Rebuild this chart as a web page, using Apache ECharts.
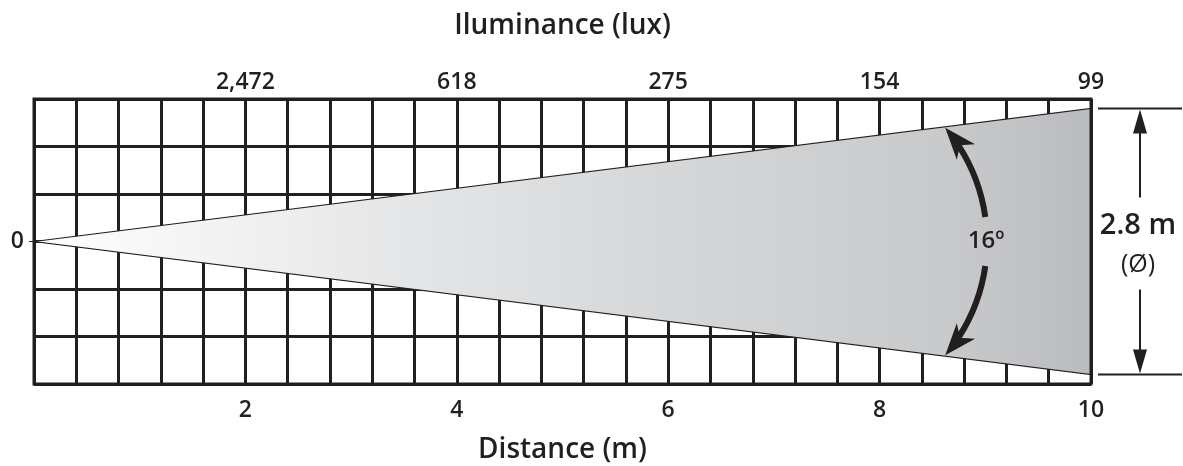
<!DOCTYPE html>
<html>
<head>
<meta charset="utf-8">
<script src="https://cdn.jsdelivr.net/npm/echarts@6/dist/echarts.min.js"></script>
<style>
  html, body { margin: 0; padding: 0; background: #ffffff; }
  #chart { width: 1183px; height: 466px; }
</style>
</head>
<body>
<div id="chart"></div>
<script>
// ---- data ----
const distances = [2, 4, 6, 8, 10];            // m (bottom tick labels)
const luxValues = [2472, 618, 275, 154, 99];   // lux at those distances (top tick labels)
const beamAngleDeg = 16;                       // beam angle
const beamDiameter = 2.8;                      // m, at max distance
const maxDistance = 10;                        // m
const originLabel = ['0'];
const xTitle = 'Distance (m)';
const topTitle = 'Iluminance (lux)';

// ---- derived ----
const half = beamDiameter / 2;
const beamPolygon = [[0, 0], [maxDistance, half], [maxDistance, -half]];

const INK = '#231f20';
const FONT = '"Open Sans", "Noto Sans", sans-serif';

function fmtLux(v) { return v.toLocaleString('en-US'); }

const chart = echarts.init(document.getElementById('chart'), null, { renderer: 'canvas' });

function renderBeam(params, api) {
  const pts = beamPolygon.map(p => api.coord(p));
  return {
    type: 'polygon',
    shape: { points: pts },
    style: {
      fill: new echarts.graphic.LinearGradient(0, 0, 1, 0, [
        { offset: 0, color: '#ffffff' },
        { offset: 0.33, color: '#e6e7e8' },
        { offset: 0.61, color: '#d5d6d8' },
        { offset: 0.87, color: '#c8c9cb' },
        { offset: 1, color: '#babbbe' }
      ]),
      stroke: INK,
      lineWidth: 1.2
    }
  };
}

function arrowHead(tip, dir, len, wid) {
  const nx = -dir[1], ny = dir[0];
  const bx = tip[0] - dir[0] * len, by = tip[1] - dir[1] * len;
  const notch = [tip[0] - dir[0] * len * 0.72, tip[1] - dir[1] * len * 0.72];
  return [tip, [bx + nx * wid / 2, by + ny * wid / 2], notch, [bx - nx * wid / 2, by - ny * wid / 2]];
}

function renderAnnot(params, api) {
  const cs = params.coordSys;
  const A = api.coord([0, 0]);
  const T = api.coord([maxDistance, half]);
  const B = api.coord([maxDistance, -half]);
  const children = [];

  // plot border
  children.push({
    type: 'rect',
    shape: { x: cs.x, y: cs.y, width: cs.width, height: cs.height },
    style: { fill: null, stroke: INK, lineWidth: 3 }
  });
  // small leader tick at origin
  children.push({ type: 'line', shape: { x1: A[0] - 5, y1: A[1], x2: A[0], y2: A[1] }, style: { stroke: INK, lineWidth: 1 } });

  // beam-angle arcs
  const cx = T[0] - 280, cy = A[1], r = 176;
  const deg = Math.PI / 180;
  const tipAng = 40.3 * deg, endAng = 8 * deg, headLen = 32, headW = 24;
  const headAng = (headLen * 0.72) / r;
  children.push({
    type: 'arc',
    shape: { cx: cx, cy: cy, r: r, startAngle: -(tipAng - headAng), endAngle: -endAng, clockwise: true },
    style: { fill: null, stroke: INK, lineWidth: 6 }
  });
  children.push({
    type: 'arc',
    shape: { cx: cx, cy: cy, r: r, startAngle: endAng, endAngle: tipAng - headAng, clockwise: true },
    style: { fill: null, stroke: INK, lineWidth: 6 }
  });
  const upTip = [cx + r * Math.cos(tipAng), cy - r * Math.sin(tipAng)];
  const upDir = [-Math.sin(tipAng), -Math.cos(tipAng)];
  const loTip = [cx + r * Math.cos(tipAng), cy + r * Math.sin(tipAng)];
  const loDir = [-Math.sin(tipAng), Math.cos(tipAng)];
  children.push({ type: 'polygon', shape: { points: arrowHead(upTip, upDir, headLen, headW) }, style: { fill: INK } });
  children.push({ type: 'polygon', shape: { points: arrowHead(loTip, loDir, headLen, headW) }, style: { fill: INK } });
  children.push({
    type: 'text',
    style: {
      text: beamAngleDeg + 'º', x: cx + r - 1, y: cy,
      align: 'center', verticalAlign: 'middle',
      fontSize: 24, fontWeight: 600, fontFamily: FONT, fill: INK
    }
  });

  // diameter dimension
  const dx = T[0] + 49;
  children.push({ type: 'line', shape: { x1: T[0] + 7, y1: T[1], x2: T[0] + 91, y2: T[1] }, style: { stroke: INK, lineWidth: 2 } });
  children.push({ type: 'line', shape: { x1: B[0] + 7, y1: B[1], x2: B[0] + 91, y2: B[1] }, style: { stroke: INK, lineWidth: 2 } });
  children.push({ type: 'line', shape: { x1: dx, y1: T[1] + 20, x2: dx, y2: A[1] - 44 }, style: { stroke: INK, lineWidth: 2 } });
  children.push({ type: 'line', shape: { x1: dx, y1: A[1] + 48, x2: dx, y2: B[1] - 20 }, style: { stroke: INK, lineWidth: 2 } });
  children.push({ type: 'polygon', shape: { points: [[dx, T[1] + 1], [dx - 7, T[1] + 25], [dx + 7, T[1] + 25]] }, style: { fill: INK } });
  children.push({ type: 'polygon', shape: { points: [[dx, B[1] - 1], [dx - 7, B[1] - 25], [dx + 7, B[1] - 25]] }, style: { fill: INK } });
  children.push({
    type: 'text',
    style: {
      text: beamDiameter.toFixed(1) + ' m', x: dx - 2, y: A[1] - 16,
      align: 'center', verticalAlign: 'middle',
      fontSize: 29, fontWeight: 600, fontFamily: FONT, fill: INK
    }
  });
  children.push({
    type: 'text',
    style: {
      text: '(Ø)', x: dx - 2, y: A[1] + 23,
      align: 'center', verticalAlign: 'middle',
      fontSize: 25, fontWeight: 500, fontFamily: FONT, fill: INK
    }
  });

  return { type: 'group', children: children };
}

const option = {
  backgroundColor: '#ffffff',
  animation: false,
  grid: { left: 34, right: 92, top: 99, bottom: 82, show: false, outerBoundsMode: 'none', containLabel: false },
  xAxis: [
    {
      type: 'value', position: 'bottom', min: 0, max: maxDistance, interval: 0.4,
      axisLine: { show: false }, axisTick: { show: false },
      splitLine: { show: true, lineStyle: { color: INK, width: 3 } },
      axisLabel: {
        margin: 15, color: INK, fontSize: 23, fontWeight: 600, fontFamily: FONT,
        formatter: v => { const i = distances.findIndex(d => Math.abs(d - v) < 1e-6); return i >= 0 ? String(distances[i]) : ''; }
      },
      name: xTitle, nameLocation: 'middle', nameGap: 52,
      nameTextStyle: { color: INK, fontSize: 28, fontWeight: 600, fontFamily: FONT }
    },
    {
      type: 'value', position: 'top', min: 0, max: maxDistance, interval: 0.4,
      axisLine: { show: false }, axisTick: { show: false }, splitLine: { show: false },
      axisLabel: {
        margin: 5, color: INK, fontSize: 23, fontWeight: 600, fontFamily: FONT,
        formatter: v => { const i = distances.findIndex(d => Math.abs(d - v) < 1e-6); return i >= 0 ? fmtLux(luxValues[i]) : ''; }
      },
      name: topTitle, nameLocation: 'middle', nameGap: 59,
      nameTextStyle: { color: INK, fontSize: 28, fontWeight: 600, fontFamily: FONT }
    }
  ],
  yAxis: {
    type: 'value', min: -1.5, max: 1.5, interval: 0.5,
    axisLine: { show: false }, axisTick: { show: false },
    splitLine: { show: true, lineStyle: { color: INK, width: 3 } },
    axisLabel: {
      margin: 10, color: INK, fontSize: 23, fontWeight: 600, fontFamily: FONT,
      formatter: v => (Math.abs(v) < 1e-9 ? originLabel[0] : '')
    }
  },
  series: [
    {
      type: 'custom', name: 'beam', xAxisIndex: 0, renderItem: renderBeam,
      data: [[0]], silent: true, z: 2
    },
    {
      type: 'custom', name: 'annotations', xAxisIndex: 0, renderItem: renderAnnot,
      data: [[0]], silent: true, clip: false, z: 3
    }
  ]
};

chart.setOption(option);
</script>
</body>
</html>
